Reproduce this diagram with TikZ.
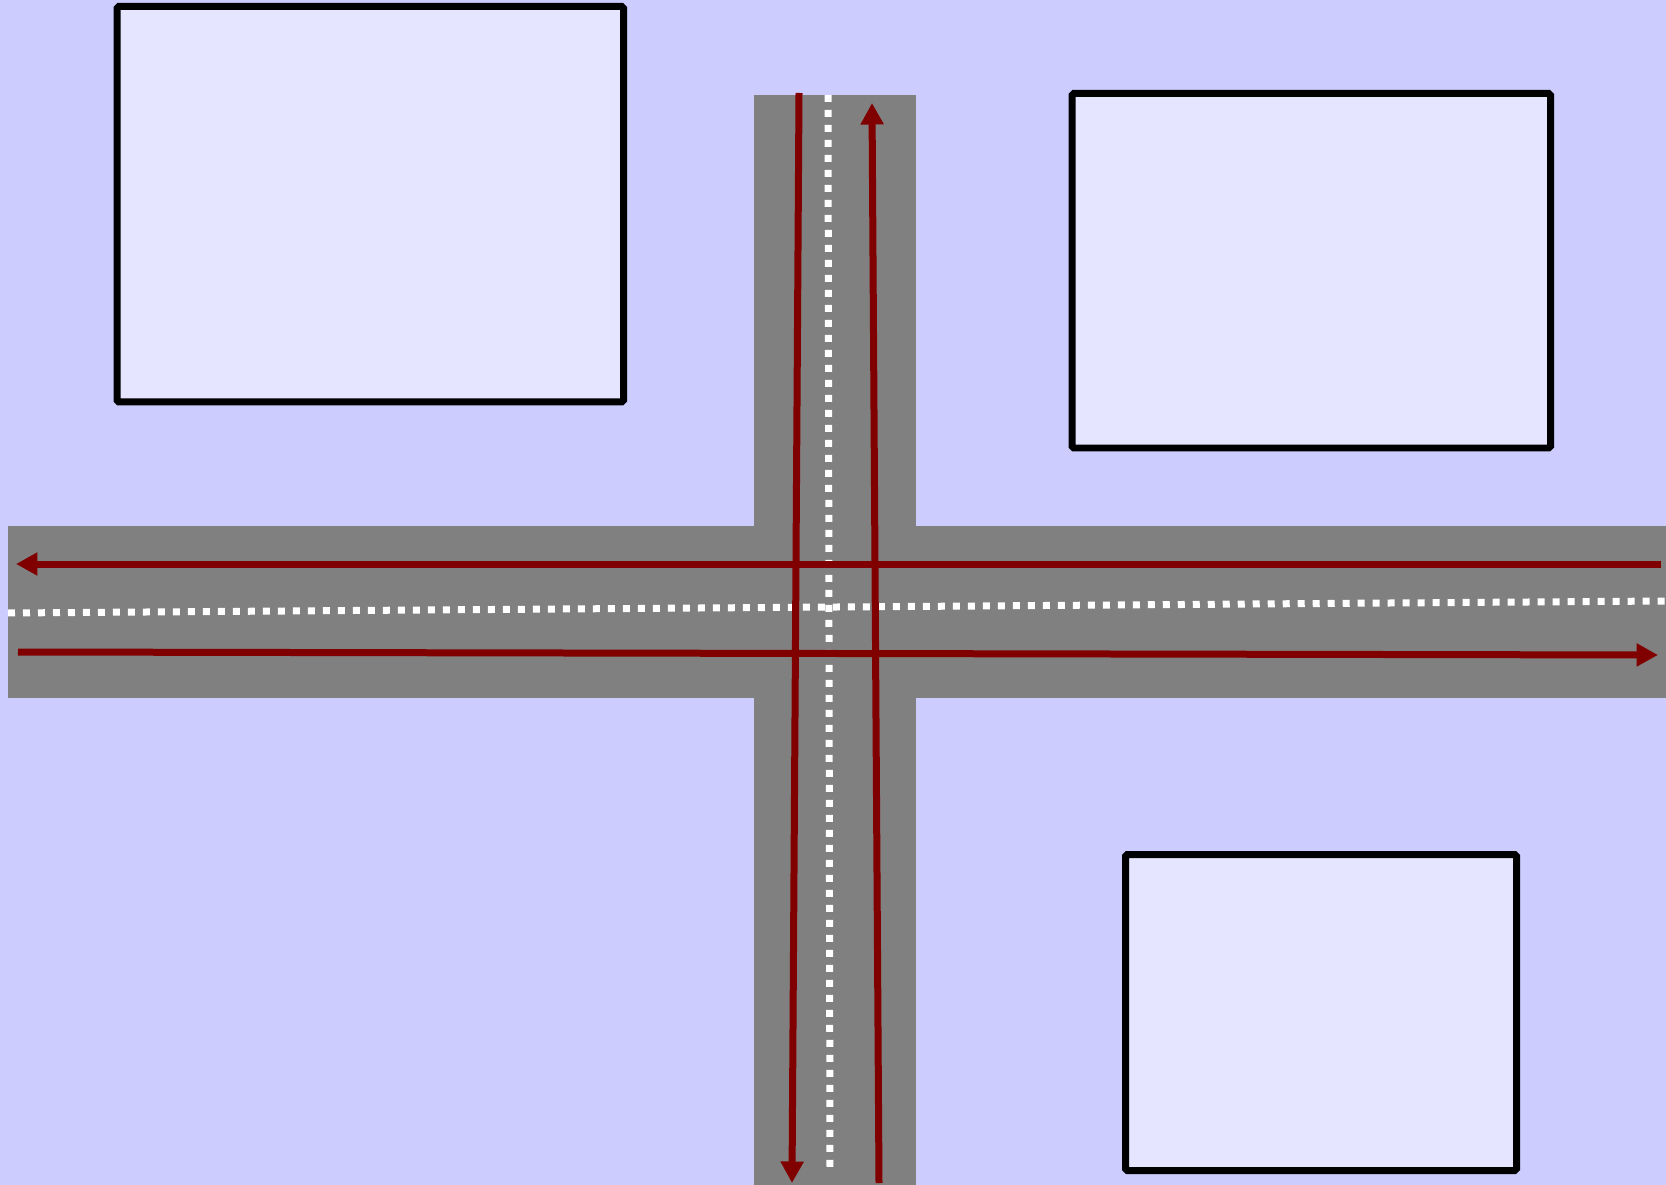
\documentclass[tikz,border=0pt]{standalone}
\usetikzlibrary{arrows.meta}

\definecolor{grass}{rgb}{0.8,0.8,1}
\definecolor{roof}{rgb}{0.9,0.9,1}
\definecolor{lane}{rgb}{0.5,0,0}

\begin{document}
\begin{tikzpicture}[
  x=0.02cm, y=-0.02cm,
  house/.style={draw=black, fill=roof, line width=0.14cm, rounded corners=1pt},
  road/.style={fill=gray, draw=none},
  midline/.style={draw=white, line width=0.14cm, dash pattern=on 0.14cm off 0.16cm},
  route/.style={draw=lane, line width=0.14cm, -{Triangle[length=0.43cm, width=0.44cm]}}
]

% Fond
\fill[grass] (0,0) rectangle (1666,1185);
\useasboundingbox (0,0) rectangle (1666,1185);

% Routes
\fill[road] (8,526) rectangle (1666,698);
\fill[road] (754,95) rectangle (916,1185);

% Lignes centrales
\coordinate (mw) at (8,613);
\coordinate (me) at (1666,601);
\coordinate (mn) at (828,95);
\coordinate (ms) at (830,1173);
\draw[midline] (mw) -- (me);
\draw[midline] (mn) -- (ms);

% Batiments
\draw[house] (117,6.5) rectangle (623.5,402);
\draw[house] (1072,93.5) rectangle (1550.5,448);
\draw[house] (1125.5,854.5) rectangle (1516.5,1170.5);

% Trajets
\coordinate (dn) at (799,93);
\coordinate (ds) at (792,1183);
\coordinate (us) at (879,1183);
\coordinate (un) at (872,103);
\coordinate (le) at (1661,564);
\coordinate (lw) at (16,564);
\coordinate (rw) at (18,652);
\coordinate (re) at (1658,655);
\draw[route] (le) -- (lw);
\draw[route] (rw) -- (re);
\draw[route] (dn) -- (ds);
\draw[route] (us) -- (un);

\end{tikzpicture}
\end{document}
